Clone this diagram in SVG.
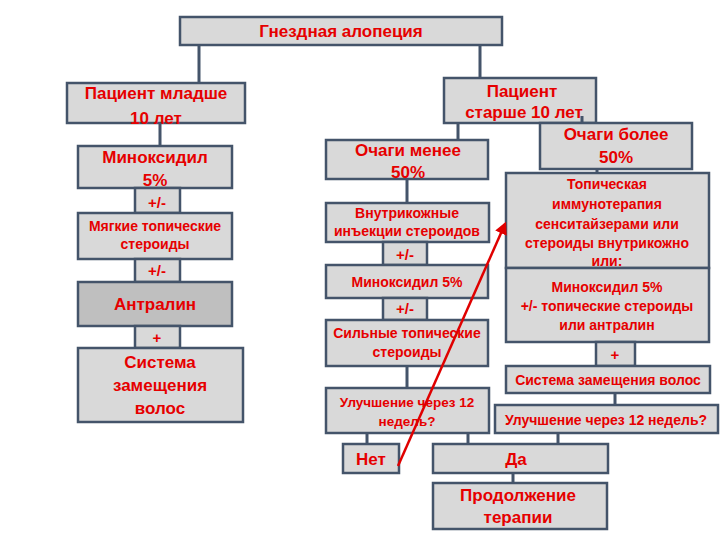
<svg xmlns="http://www.w3.org/2000/svg" width="720" height="540" viewBox="0 0 720 540">
<defs>
<marker id="ah" viewBox="0 0 10 10" refX="8" refY="5" markerWidth="5" markerHeight="5" orient="auto" markerUnits="strokeWidth">
<path d="M0,0 L10,5 L0,10 z" fill="#e00000"/>
</marker>
</defs>
<style>
.box{fill:#d9d9d9;stroke:#44546a;stroke-width:2.5}
.dark{fill:#bfbfbf}
text{font-family:"Liberation Sans",Arial,sans-serif;font-weight:bold;fill:#e60000;text-anchor:middle}
.s13{font-size:13.5px}
.s14{font-size:14px}
.s15{font-size:15px}
.s17{font-size:17px}
.conn{stroke:#44546a;stroke-width:3;fill:none}
.red{stroke:#e00000;stroke-width:2.5;fill:none}
</style>
<rect width="720" height="540" fill="#ffffff"/>
<g id="nodes">
<g id="n-root"><rect class="box" x="180" y="17" width="322" height="28"/><text class="s17" x="341" y="37">Гнездная алопеция</text></g>
<g id="n-young"><rect class="box" x="67" y="83" width="178" height="40"/><text class="s17" x="156" y="99">Пациент младше</text><text class="s17" x="156" y="124">10 лет</text></g>
<g id="n-minox1"><rect class="box" x="78" y="146" width="154" height="42"/><text class="s17" x="155" y="163">Миноксидил</text><text class="s17" x="155" y="186">5%</text></g>
<g id="n-pm1"><rect class="box" x="135" y="188" width="45" height="25"/><text class="s15" x="157" y="208">+/-</text></g>
<g id="n-mild"><rect class="box" x="78" y="213" width="154" height="46"/><text class="s14" x="155" y="231">Мягкие топические</text><text class="s14" x="155" y="249">стероиды</text></g>
<g id="n-pm2"><rect class="box" x="135" y="259" width="45" height="23"/><text class="s15" x="157" y="276">+/-</text></g>
<g id="n-antr"><rect class="box dark" x="78" y="282" width="154" height="44"/><text class="s17" x="155" y="310">Антралин</text></g>
<g id="n-plus1"><rect class="box" x="135" y="326" width="45" height="22"/><text class="s15" x="157" y="343">+</text></g>
<g id="n-sys1"><rect class="box" x="78" y="348" width="165" height="74"/><text class="s17" x="160" y="368">Система</text><text class="s17" x="160" y="391">замещения</text><text class="s17" x="160" y="414">волос</text></g>
<g id="n-old"><rect class="box" x="444" y="78" width="152" height="45"/><text class="s17" x="522" y="97">Пациент</text><text class="s17" x="524" y="118">старше 10 лет</text></g>
<g id="n-less"><rect class="box" x="326" y="140" width="162" height="39"/><text class="s17" x="408" y="156">Очаги менее</text><text class="s17" x="408" y="178">50%</text></g>
<g id="n-inj"><rect class="box" x="326" y="203" width="163" height="39"/><text class="s14" x="407" y="218">Внутрикожные</text><text class="s14" x="407" y="236">инъекции стероидов</text></g>
<g id="n-pm3"><rect class="box" x="383" y="242" width="44" height="23"/><text class="s15" x="405" y="260">+/-</text></g>
<g id="n-minox2"><rect class="box" x="326" y="265" width="162" height="33"/><text class="s14" x="407" y="287">Миноксидил 5%</text></g>
<g id="n-pm4"><rect class="box" x="383" y="298" width="44" height="22"/><text class="s15" x="405" y="314">+/-</text></g>
<g id="n-strong"><rect class="box" x="326" y="320" width="162" height="46"/><text class="s14" x="407" y="338">Сильные топические</text><text class="s14" x="407" y="357">стероиды</text></g>
<g id="n-imp1"><rect class="box" x="326" y="388" width="163" height="45"/><text class="s13" x="407" y="407">Улучшение через  12</text><text class="s13" x="407" y="426">недель?</text></g>
<g id="n-no"><rect class="box" x="343" y="444" width="56" height="29"/><text class="s17" x="371" y="465">Нет</text></g>
<g id="n-yes"><rect class="box" x="433" y="444" width="175" height="29"/><text class="s17" x="516" y="465">Да</text></g>
<g id="n-cont"><rect class="box" x="433" y="483" width="174" height="46"/><text class="s17" x="518" y="501">Продолжение</text><text class="s17" x="518" y="523">терапии</text></g>
<g id="n-more"><rect class="box" x="540" y="123" width="152" height="46"/><text class="s17" x="616" y="140">Очаги более</text><text class="s17" x="616" y="163">50%</text></g>
<g id="n-immuno"><rect class="box" x="506" y="173" width="203" height="95"/><text class="s14" x="607" y="189">Топическая</text><text class="s14" x="607" y="209">иммунотерапия</text><text class="s14" x="607" y="229">сенситайзерами или</text><text class="s14" x="607" y="248">стероиды внутрикожно</text><text class="s14" x="607" y="266">или:</text></g>
<g id="n-minox3"><rect class="box" x="506" y="268" width="203" height="74"/><text class="s14" x="607" y="292">Миноксидил 5%</text><text class="s14" x="607" y="311">+/-  топические стероиды</text><text class="s14" x="607" y="330">или антралин</text></g>
<g id="n-plus2"><rect class="box" x="596" y="342" width="39" height="24"/><text class="s15" x="615" y="360">+</text></g>
<g id="n-sys2"><rect class="box" x="506" y="366" width="204" height="27"/><text class="s14" x="608" y="385">Система замещения волос</text></g>
<g id="n-imp2"><rect class="box" x="495" y="405" width="223" height="28"/><text class="s14" x="606" y="425">Улучшение через 12 недель?</text></g>
</g>
<g id="connectors">
<path class="conn" d="M199,45V83 M480,45V78 M160,123V146 M458,123V140 M582,116V123 M407,179V203 M597,169V173 M407,366V388 M615,393V405 M367,433V444 M468,433V444 M558,433V444 M513,473V483"/>
<path class="red" d="M398,466 L505,224" marker-end="url(#ah)"/>
</g>
</svg>
